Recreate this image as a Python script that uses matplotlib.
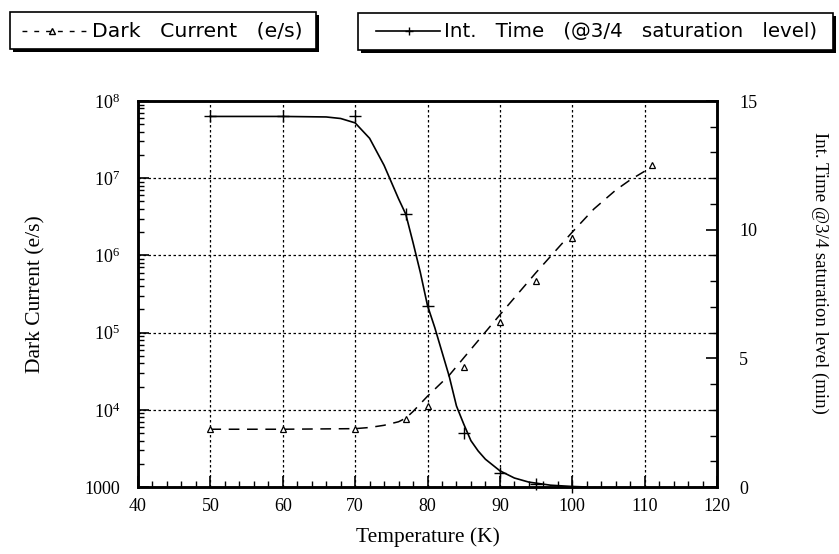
import matplotlib
matplotlib.use("Agg")
import matplotlib.pyplot as plt
from matplotlib.patches import Rectangle
from matplotlib.lines import Line2D
from matplotlib.ticker import FixedLocator, FixedFormatter, MultipleLocator, NullFormatter

# data
temp_dc = [50, 60, 70, 77, 80, 85, 90, 95, 100, 111]
dark_current = [5600, 5600, 5600, 7600, 11200, 35600, 137000, 465000, 1.7e6, 1.47e7]

# smooth dashed fit curve
temp_dc_fit = [50, 60, 70, 72, 74, 76, 77, 78, 80, 83, 85, 90, 95, 100, 103, 106, 108, 110]
dark_current_fit = [5600, 5600, 5700, 5900, 6300, 7000, 7800, 9500, 15000, 28000,
                    47000, 170000, 600000, 2.0e6, 4.0e6, 7.0e6, 9.5e6, 1.23e7]

temp_it = [50, 60, 66, 68, 70, 72, 74, 76, 77, 78, 79, 80, 81, 82, 83, 84, 85, 86,
           87, 88, 90, 92, 94, 97, 100, 102]
int_time = [14.4, 14.4, 14.38, 14.32, 14.15, 13.55, 12.5, 11.2, 10.6, 9.5, 8.35, 7.05,
            6.2, 5.25, 4.3, 3.15, 2.45, 1.8, 1.4, 1.08, 0.63, 0.35, 0.19, 0.07, 0.02, 0.0]

temp_it_pts = [50, 60, 70, 77, 80, 85, 90, 95, 100]
int_time_pts = [14.42, 14.42, 14.42, 10.6, 7.03, 2.1, 0.54, 0.12, 0.0]

left_ticks = [1e3, 1e4, 1e5, 1e6, 1e7, 1e8]
left_labels = ["1000", r"$\mathregular{10^4}$", r"$\mathregular{10^5}$",
               r"$\mathregular{10^6}$", r"$\mathregular{10^7}$", r"$\mathregular{10^8}$"]

plt.rcParams['font.family'] = 'Liberation Serif'
plt.rcParams['mathtext.fontset'] = 'custom'
plt.rcParams['mathtext.rm'] = 'Liberation Serif'

W, H = 839, 554
fig = plt.figure(figsize=(W / 100, H / 100), dpi=100)

def fx(px):
    return px / W

def fy(py):
    return 1 - py / H

ax = fig.add_axes([fx(138), fy(487), fx(717) - fx(138), fy(101) - fy(487)])
ax2 = ax.twinx()

# dark current (left, log)
ax.plot(temp_dc_fit, dark_current_fit, color='black', lw=1.1, ls=(0, (7, 5)))
ax.plot(temp_dc, dark_current, ls='none', marker='^', mfc='white', mec='black',
        ms=5, mew=0.9, clip_on=False)
ax.set_yscale('log')
ax.set_ylim(1000, 1e8)
ax.set_xlim(40, 120)
ax.yaxis.set_major_locator(FixedLocator(left_ticks))
ax.yaxis.set_major_formatter(FixedFormatter(left_labels))
ax.yaxis.set_minor_formatter(NullFormatter())
ax.xaxis.set_major_locator(MultipleLocator(10))
ax.xaxis.set_minor_locator(MultipleLocator(2))
ax.grid(True, which='major', color='black', ls=(0, (2, 2)), lw=0.9)
ax.tick_params(which='both', direction='in', labelsize=13)
ax.tick_params(which='major', length=8, width=1.2)
ax.tick_params(which='minor', length=4, width=1)
ax.tick_params(axis='x', pad=8)
ax.tick_params(axis='y', pad=13)
ax.set_xlabel('Temperature (K)', fontsize=15.5, labelpad=9)
ax.set_ylabel('Dark Current (e/s)', fontsize=15.5)
ax.yaxis.set_label_coords((45 - 138) / (717 - 138), 0.5)

# integration time (right, linear)
ax2.plot(temp_it, int_time, color='black', lw=1.2)
ax2.plot(temp_it_pts, int_time_pts, ls='none', marker='+', color='black', ms=8,
         mew=1, clip_on=False)
ax2.set_ylim(0, 15)
ax2.yaxis.set_major_locator(MultipleLocator(5))
ax2.yaxis.set_minor_locator(MultipleLocator(1))
ax2.tick_params(which='both', direction='in', labelsize=13)
ax2.tick_params(which='major', length=8, width=1.2, pad=16)
ax2.tick_params(which='minor', length=5, width=1)
ax2.set_ylabel('Int. Time @3/4 saturation level (min)', fontsize=13.5, rotation=-90,
               va='center')
ax2.yaxis.set_label_coords((820 - 138) / (717 - 138), (487 - 273) / (487 - 101))

for a in (ax, ax2):
    for s in a.spines.values():
        s.set_linewidth(1.8)

# legend boxes with drop shadow
def legend_box(x0, y0, x1, y1):
    fig.add_artist(Rectangle((fx(x0 + 3), fy(y1 + 3)), fx(x1 - x0), fy(y0) - fy(y1),
                             transform=fig.transFigure, facecolor='black', edgecolor='none'))
    fig.add_artist(Rectangle((fx(x0), fy(y1)), fx(x1 - x0), fy(y0) - fy(y1),
                             transform=fig.transFigure, facecolor='white',
                             edgecolor='black', lw=1.2))

legend_box(10, 12, 316, 49)
fig.add_artist(Line2D([fx(22), fx(88)], [fy(31), fy(31)], transform=fig.transFigure,
                      color='black', lw=1, ls=(0, (3.5, 5))))
fig.add_artist(Line2D([fx(52)], [fy(31)], transform=fig.transFigure, marker='^',
                      mfc='white', mec='black', ms=4, ls='none'))
fig.text(fx(92), fy(31), 'Dark   Current   (e/s)', family='DejaVu Sans', fontsize=14.7,
         va='center', ha='left')

legend_box(358, 13, 833, 50)
fig.add_artist(Line2D([fx(376), fx(440)], [fy(31), fy(31)], transform=fig.transFigure,
                      color='black', lw=1.2))
fig.add_artist(Line2D([fx(409)], [fy(31)], transform=fig.transFigure, marker='+',
                      color='black', ms=6, ls='none'))
fig.text(fx(444), fy(31), 'Int.   Time   (@3/4   saturation   level)', family='DejaVu Sans',
         fontsize=14.3, va='center', ha='left')

fig.savefig('out.png', dpi=100)
